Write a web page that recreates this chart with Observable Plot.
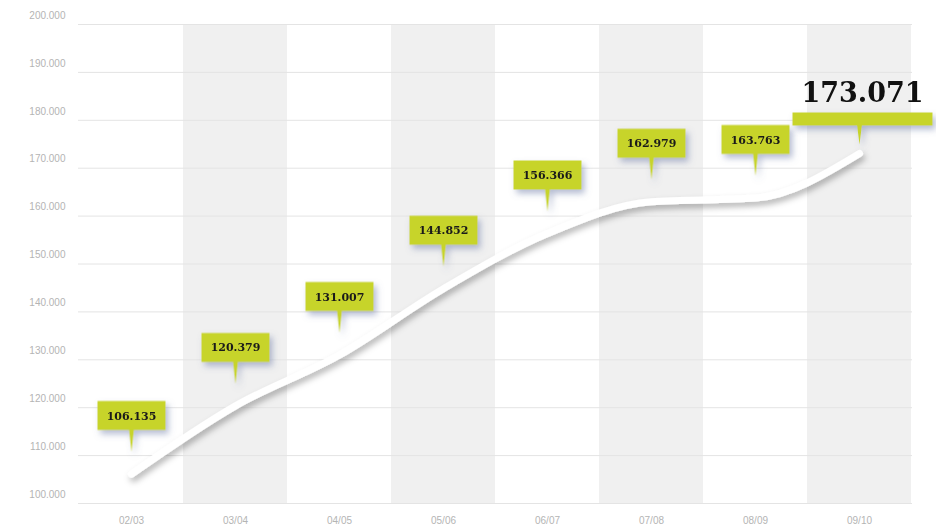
<!DOCTYPE html>
<html>
<head>
<meta charset="utf-8">
<script src="https://cdn.jsdelivr.net/npm/d3@7"></script>
<script src="https://cdn.jsdelivr.net/npm/@observablehq/plot@0.6"></script>
<style>
  html, body { margin: 0; padding: 0; background: #ffffff; }
  #chart svg { display: block; }
</style>
</head>
<body>
<div id="chart"></div>
<script>
// ---- data ----
const seasons = ["02/03", "03/04", "04/05", "05/06", "06/07", "07/08", "08/09", "09/10"];
const values = [106135, 120379, 131007, 144852, 156366, 162979, 163763, 173071];
const shadedSeasons = ["03/04", "05/06", "07/08", "09/10"];
const yTickValues = [100000, 110000, 120000, 130000, 140000, 150000, 160000, 170000, 180000, 190000, 200000];

const fmt = v => d3.format(",")(v).replace(/,/g, ".");
const rows = seasons.map((s, i) => ({season: s, value: values[i]}));
const smallRows = rows.slice(0, rows.length - 1);
const lastRows = rows.slice(rows.length - 1);

// callout shapes (box + pointer), relative to the data point
const calloutSymbol = {
  draw(ctx) {
    ctx.rect(-34, -73, 68, 29);
    ctx.moveTo(-2.5, -45);
    ctx.lineTo(2.5, -45);
    ctx.lineTo(0, -22);
    ctx.closePath();
  }
};
const bigCalloutSymbol = {
  draw(ctx) {
    ctx.rect(-67, -41, 140, 13);
    ctx.moveTo(-2.5, -29);
    ctx.lineTo(2.5, -29);
    ctx.lineTo(0, -9);
    ctx.closePath();
  }
};

const lime = "#c7d42b";

const chart = Plot.plot({
  width: 936,
  height: 528,
  marginLeft: 78,
  marginRight: 24,
  marginTop: 24,
  marginBottom: 25,
  style: {background: "#ffffff", overflow: "visible"},
  x: {type: "band", domain: seasons, padding: 0, label: null},
  y: {domain: [100000, 200000], label: null},
  marks: [
    Plot.barY(shadedSeasons, {x: d => d, y1: 100000, y2: 200000, fill: "#f0f0f0"}),
    Plot.ruleY(yTickValues, {stroke: "#e4e4e4", strokeWidth: 1}),
    Plot.axisY({ticks: yTickValues, tickFormat: fmt, tickSize: 0, tickPadding: 13, dy: -9, label: null,
      fontSize: 10, fill: "#b4b4b4", fontFamily: "Liberation Sans Narrow, Liberation Sans, sans-serif"}),
    Plot.axisX({tickSize: 0, tickPadding: 13, fontSize: 10, fill: "#b4b4b4", label: null,
      fontFamily: "Liberation Sans Narrow, Liberation Sans, sans-serif"}),
    Plot.line(rows, {x: "season", y: "value", stroke: "#ffffff", strokeWidth: 7, curve: "monotone-x",
      strokeLinecap: "round", strokeLinejoin: "round"}),
    Plot.dot(smallRows, {x: "season", y: "value", symbol: calloutSymbol, fill: lime}),
    Plot.dot(lastRows, {x: "season", y: "value", symbol: bigCalloutSymbol, fill: lime}),
    Plot.text(smallRows, {x: "season", y: "value", text: d => fmt(d.value), dy: -58,
      fontSize: 11, fontWeight: "bold", fill: "#1a1a1a", fontFamily: "DejaVu Serif, serif"}),
    Plot.text(lastRows, {x: "season", y: "value", text: d => fmt(d.value), dx: 3, dy: -60,
      fontSize: 27, fontWeight: "bold", fill: "#111111", fontFamily: "DejaVu Serif, serif"})
  ]
});

// drop shadows (userSpaceOnUse regions so thin shapes are not clipped)
const svg = d3.select(chart);
const defs = svg.insert("defs", ":first-child");
defs.append("filter").attr("id", "lineShadow").attr("filterUnits", "userSpaceOnUse")
  .attr("x", 0).attr("y", 0).attr("width", 936).attr("height", 528)
  .append("feDropShadow").attr("dx", 2).attr("dy", 4).attr("stdDeviation", 3)
  .attr("flood-color", "#000000").attr("flood-opacity", 0.3);
defs.append("filter").attr("id", "boxShadow").attr("filterUnits", "userSpaceOnUse")
  .attr("x", 0).attr("y", 0).attr("width", 936).attr("height", 528)
  .append("feDropShadow").attr("dx", 3).attr("dy", 4).attr("stdDeviation", 3)
  .attr("flood-color", "#6a7aa6").attr("flood-opacity", 0.5);
svg.selectAll("path").filter(function() {
  const g = this.parentNode;
  return (g.getAttribute("stroke-width") === "7") || (this.getAttribute("stroke-width") === "7");
}).attr("filter", "url(#lineShadow)");
svg.selectAll("g").filter(function() {
  return this.getAttribute("fill") === lime && this.querySelector("path");
}).attr("filter", "url(#boxShadow)");

document.getElementById("chart").appendChild(chart);
</script>
</body>
</html>
